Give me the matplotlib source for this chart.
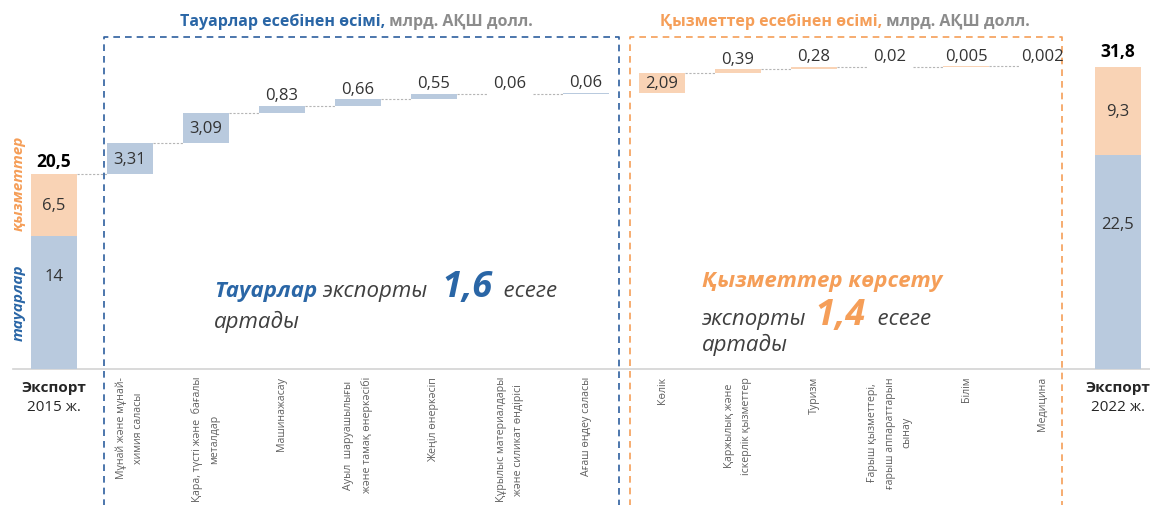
import numpy as np
import matplotlib.pyplot as plt

plt.rcParams['font.family'] = ['Open Sans', 'DejaVu Sans']

# totals, bln USD
start_goods = 14
start_services = 6.5
end_goods = 22.5
end_services = 9.3

goods_names = ['Мұнай және мұнай-\nхимия саласы',
               'Қара, түсті және  бағалы\nметалдар',
               'Машинажасау',
               'Ауыл  шаруашылығы\nжәне тамақ өнеркәсібі',
               'Жеңіл өнеркәсіп',
               'Құрылыс материалдары\nжәне силикат өндірісі',
               'Ағаш өңдеу саласы']
goods_growth = [3.31, 3.09, 0.83, 0.66, 0.55, 0.06, 0.06]

services_names = ['Көлік',
                  'Қаржылық және\nіскерлік қызметтер',
                  'Туризм',
                  'Ғарыш қызметтері,\nғарыш аппараттарын\nсынау',
                  'Білім',
                  'Медицина']
services_growth = [2.09, 0.39, 0.28, 0.02, 0.005, 0.002]

BLUE_BAR = '#b9cade'
ORANGE_BAR = '#f9d3b5'
BLUE = '#2a66a6'
ORANGE = '#f59e58'
DARK = '#333333'
GREY = '#8c8c8c'

W = 0.6

fig = plt.figure(figsize=(11.5, 5.06), dpi=100)
ax = fig.add_axes([0, 136 / 506, 1, 370 / 506])
ax.set_xlim(-54 / 76, 1096 / 76)
ax.set_ylim(0, 370 / 9.5)
for s in ax.spines.values():
    s.set_visible(False)
ax.set_yticks([])
ax.set_xticks([])

start_total = start_goods + start_services
end_total = end_goods + end_services

# start / end columns
ax.bar(0, start_goods, W, color=BLUE_BAR, zorder=2)
ax.bar(0, start_services, W, bottom=start_goods, color=ORANGE_BAR, zorder=2)
end_x = len(goods_growth) + len(services_growth) + 1
ax.bar(end_x, end_goods, W, color=BLUE_BAR, zorder=2)
ax.bar(end_x, end_services, W, bottom=end_goods, color=ORANGE_BAR, zorder=2)

ax.text(0, start_goods * 0.7, f'{start_goods:g}'.replace('.', ','), ha='center', va='center', fontsize=12, color=DARK)
ax.text(0, start_goods + start_services / 2, f'{start_services:g}'.replace('.', ','), ha='center', va='center', fontsize=12, color=DARK)
ax.text(end_x, end_goods * 0.68, f'{end_goods:g}'.replace('.', ','), ha='center', va='center', fontsize=12, color=DARK)
ax.text(end_x, end_goods + end_services / 2, f'{end_services:g}'.replace('.', ','), ha='center', va='center', fontsize=12, color=DARK)
ax.annotate(f'{start_total:g}'.replace('.', ','), (0, start_total), xytext=(0, 3), textcoords='offset points',
            ha='center', va='bottom', fontsize=12.5, fontweight='bold', color='black')
ax.annotate(f'{end_total:.1f}'.replace('.', ','), (end_x, end_total), xytext=(0, 5), textcoords='offset points',
            ha='center', va='bottom', fontsize=12.5, fontweight='bold', color='black')

# waterfall
growth = np.array(goods_growth + services_growth)
xs = np.arange(1, len(growth) + 1)
tops = start_total + np.cumsum(growth)
bottoms = tops - growth
colors = [BLUE_BAR] * len(goods_growth) + [ORANGE_BAR] * len(services_growth)
ax.bar(xs, growth, W, bottom=bottoms, color=colors, zorder=2)

for x, b, v in zip(xs, bottoms, growth):
    txt = f'{v:g}'.replace('.', ',')
    if v >= 1:
        ax.text(x, b + v / 2, txt, ha='center', va='center', fontsize=12, color=DARK, zorder=3)
    else:
        ax.annotate(txt, (x, b + v), xytext=(0, 2), textcoords='offset points',
                    ha='center', va='bottom', fontsize=12, color=DARK)

# dotted connectors
dot = dict(color='#b5b5b5', lw=0.8, ls=(0, (2, 1.5)), zorder=1)
ax.plot([W / 2, 1 - W / 2], [start_total, start_total], **dot)
ng = len(goods_growth)
for i in range(len(growth) - 1):
    if i == ng - 1:
        continue
    ax.plot([xs[i] + W / 2, xs[i + 1] - W / 2], [tops[i], tops[i]], **dot)

# baseline
ax.plot([-0.54, 14.42], [0, 0], color='#d3d3d3', lw=1.2, zorder=1, clip_on=False)

# dashed boxes
ytop = (370 - 38) / 9.5
ybot = -15
for (x0, x1), c in [((0.66, 7.43), '#2e5f9e'), ((7.58, 13.26), ORANGE)]:
    ax.plot([x0, x0, x1, x1], [ybot, ytop, ytop, ybot], color=c, lw=1.2,
            ls=(0, (4, 3)), clip_on=False, zorder=1)


def put_line(x, y, pieces):
    prev = None
    for txt, kw in pieces:
        if prev is None:
            prev = ax.text(x, y, txt, ha='left', va='baseline', **kw)
        else:
            prev = ax.annotate(txt, xy=(1, y), xycoords=(prev, 'data'),
                               ha='left', va='baseline', **kw)
    return prev


# headers
yh = (370 - 26) / 9.5
put_line((180 - 54) / 76, yh, [('Тауарлар есебінен өсімі,', dict(fontsize=11.5, fontweight='bold', color=BLUE)),
                               (' млрд. АҚШ долл.', dict(fontsize=11.5, fontweight='bold', color=GREY))])
put_line((660 - 54) / 76, yh, [('Қызметтер есебінен өсімі,', dict(fontsize=11.5, fontweight='bold', color=ORANGE)),
                               (' млрд. АҚШ долл.', dict(fontsize=11.5, fontweight='bold', color=GREY))])

# big annotations
bi = dict(fontsize=16, fontweight='bold', fontstyle='italic')
it = dict(fontsize=16, fontstyle='italic', color='#404040')
big = dict(fontsize=26, fontweight='bold', fontstyle='italic')
gx = (214 - 54) / 76
put_line(gx, (370 - 297) / 9.5, [('Тауарлар', dict(bi, color=BLUE)),
                                 (' экспорты ', it),
                                 (' 1,6', dict(big, color=BLUE)),
                                 ('  есеге', it)])
put_line(gx, (370 - 328) / 9.5, [('артады', it)])
sx = (702 - 54) / 76
put_line(sx, (370 - 287) / 9.5, [('Қызметтер көрсету', dict(bi, color=ORANGE))])
put_line(sx, (370 - 325) / 9.5, [('экспорты', it),
                                 (' 1,4', dict(big, color=ORANGE)),
                                 ('  есеге', it)])
put_line(sx, (370 - 351) / 9.5, [('артады', it)])

# side labels
ax.text(-0.47, (370 - 183) / 9.5, 'қызметтер', rotation=90, ha='center', va='center',
        fontsize=11, fontweight='bold', fontstyle='italic', color=ORANGE)
ax.text(-0.47, (370 - 303) / 9.5, 'тауарлар', rotation=90, ha='center', va='center',
        fontsize=11, fontweight='bold', fontstyle='italic', color=BLUE)

# category labels (drawn as text so line spacing can be set)
for x, name in zip(xs, goods_names + services_names):
    ax.annotate(name, (x, 0), xytext=(0, -5), textcoords='offset points',
                rotation=90, ha='center', va='top', fontsize=7.7, color='#5f5f5f',
                linespacing=1.75, annotation_clip=False)

for x, yr in [(0, '2015 ж.'), (end_x, '2022 ж.')]:
    ax.text(x, (370 - 388) / 9.5, 'Экспорт', ha='center', va='center', fontsize=11, fontweight='bold', color='#262626')
    ax.text(x, (370 - 408) / 9.5, yr, ha='center', va='center', fontsize=11, color='#262626')

fig.savefig('out.png', dpi=100)
